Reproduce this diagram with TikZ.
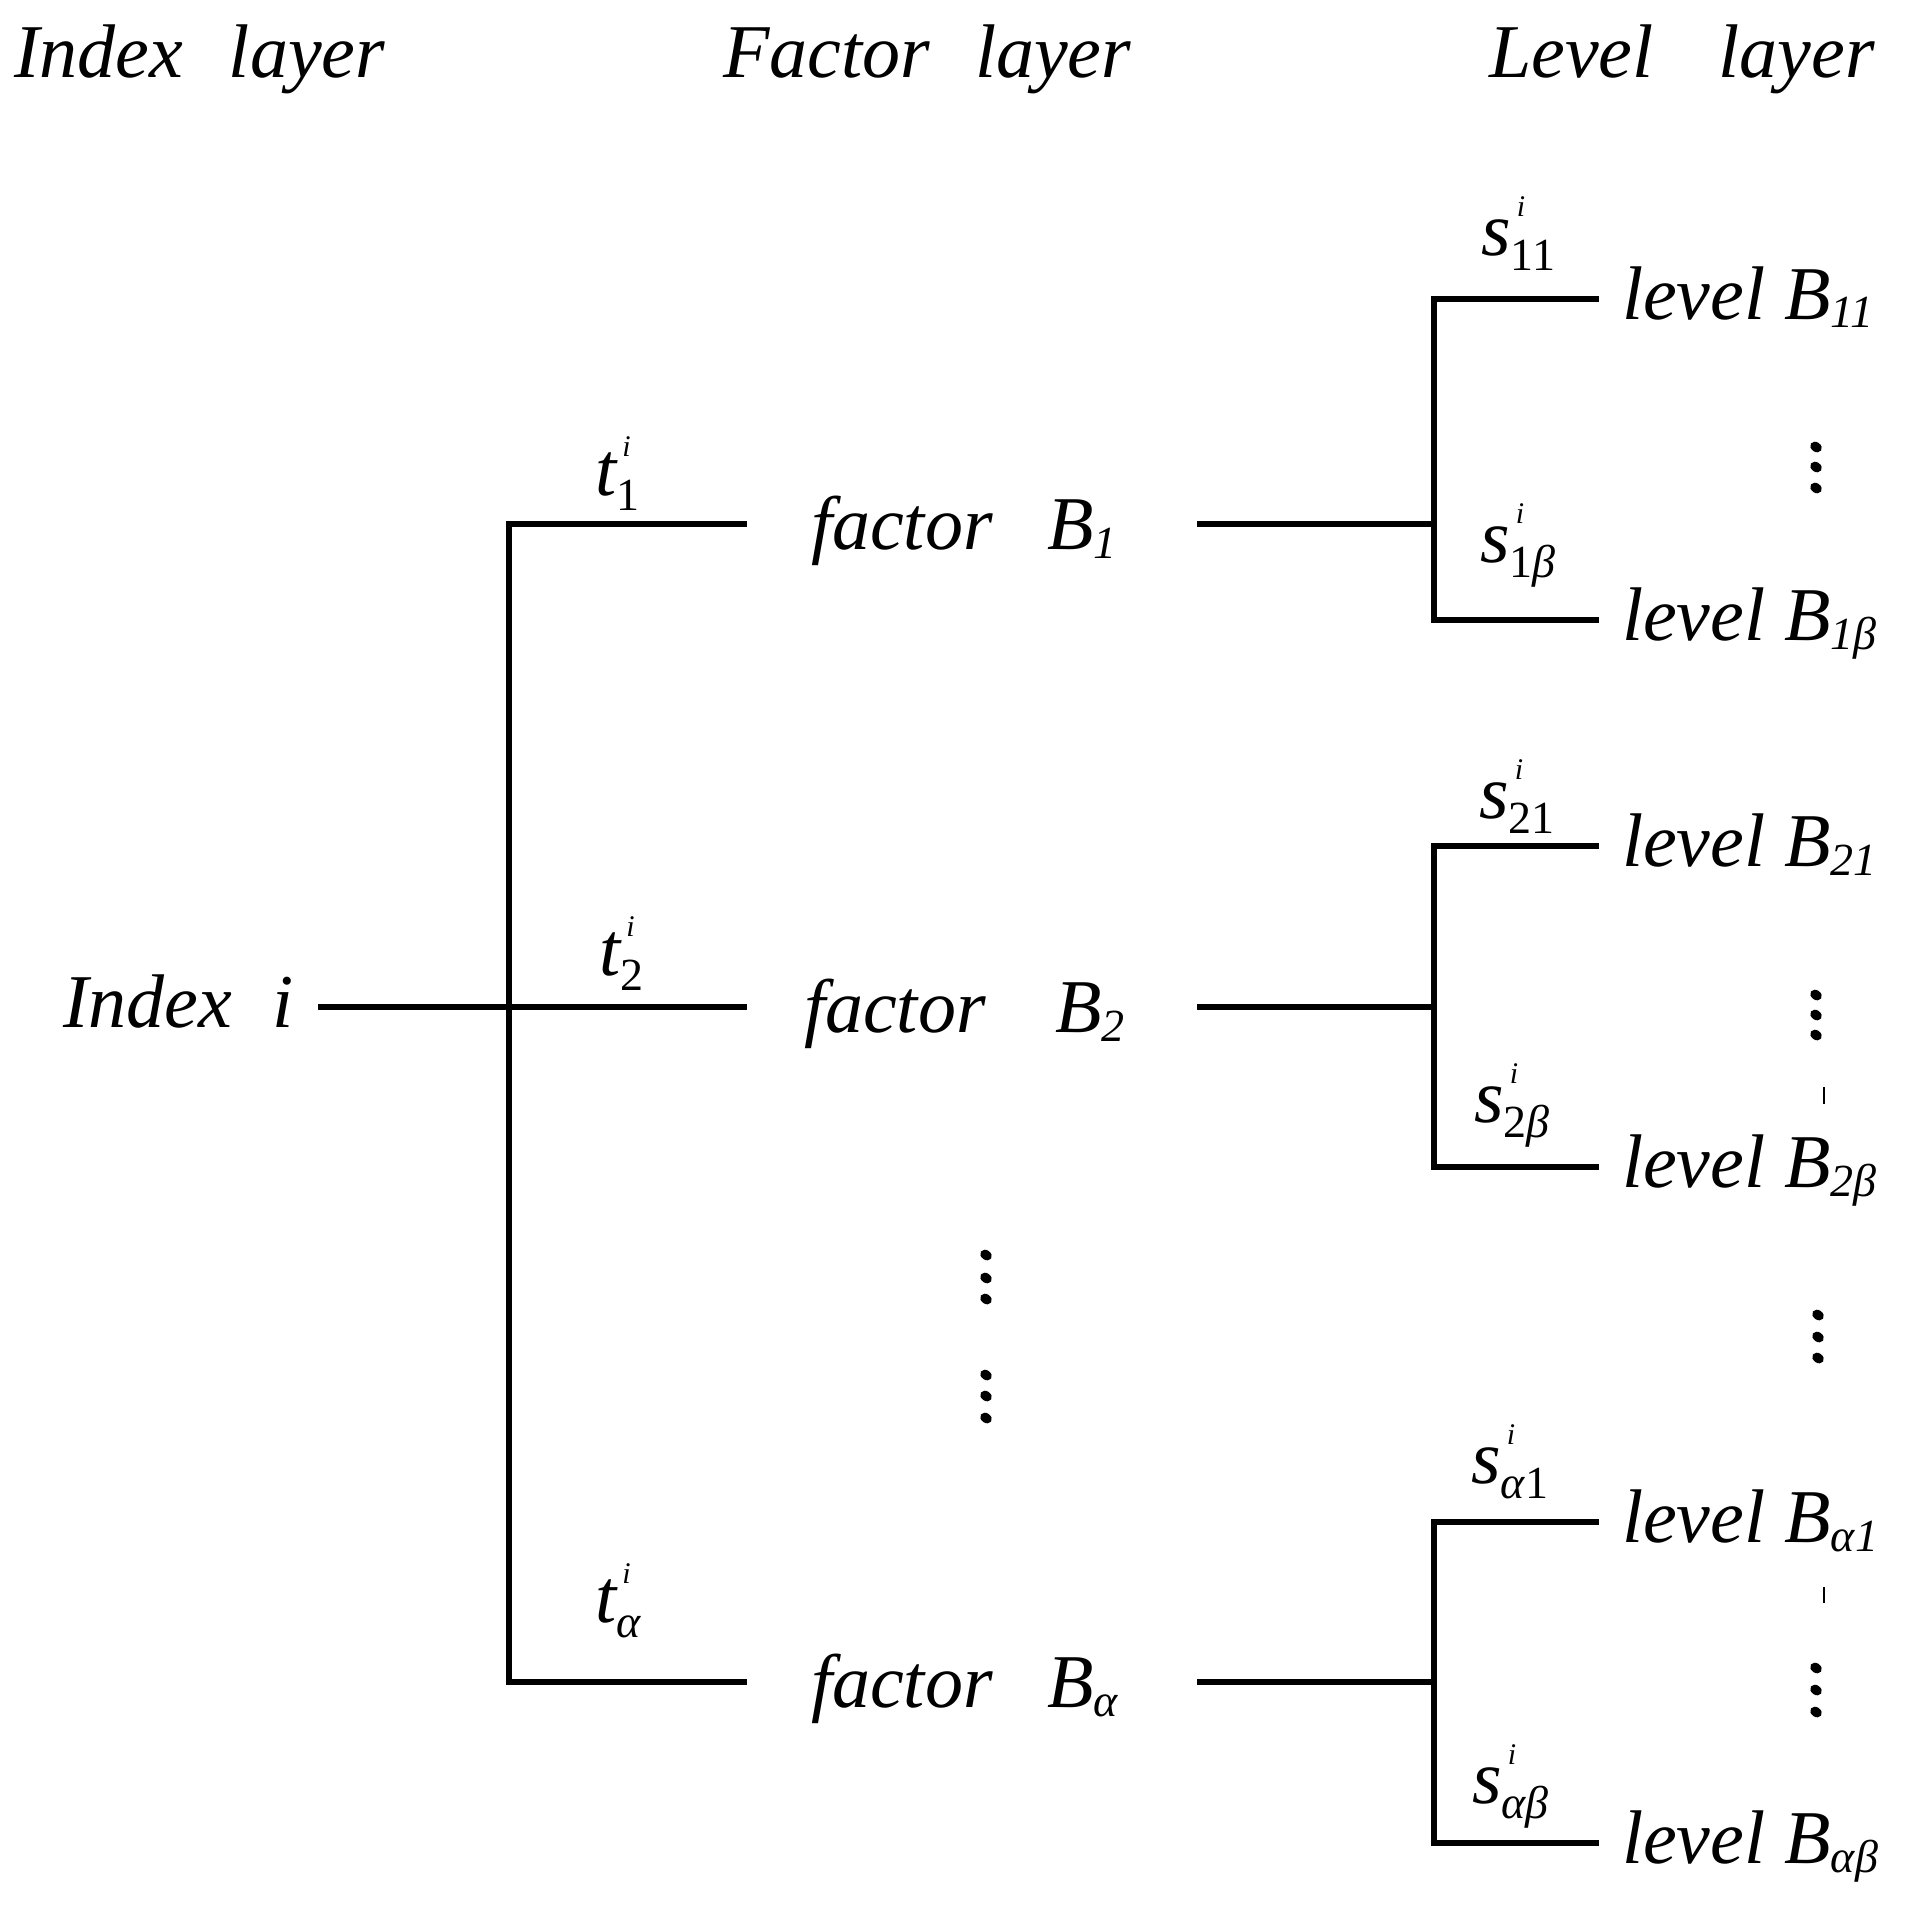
\documentclass[tikz,border=0pt]{standalone}
\usepackage{fontspec}
\setmainfont{Liberation Serif}

\newcommand{\wlab}[3]{\textit{#1}\rlap{\hspace{6pt}\raisebox{39pt}{\fontsize{30}{30}\selectfont\itshape #2}}\raisebox{-15pt}{\fontsize{46}{46}\selectfont\upshape #3}}
\newcommand{\lsub}[1]{\raisebox{-9pt}{\fontsize{46}{46}\selectfont\itshape #1}}

\begin{document}
\begin{tikzpicture}[x=1pt,y=-1pt,
	every node/.style={font=\fontsize{76}{76}\selectfont\itshape,inner sep=0pt},
	link/.style={line width=5.5pt},
	fac/.style={anchor=west,outer xsep=64pt,text width=322pt,align=left,text height=62pt,text depth=12pt},
	lvl/.style={anchor=west,outer xsep=23pt,text height=52pt,text depth=12pt},
	wt/.style={anchor=base west}]
	\useasboundingbox (0,0) rectangle (1921,1910);
	\node[wt] (hidx) at (14,78) {Index\hspace{46pt}layer};
	\node[wt] (hfac) at (723,78) {Factor\hspace{45pt}layer};
	\node[wt] (hlvl) at (1489,78) {Level\hspace{65pt}layer};
	\node[anchor=east,outer xsep=24pt,text height=52pt,text depth=12pt] (idx) at (318,1007) {Index\hspace{41pt}i};
	\node[fac] (f1) at (747,524) {\mbox{factor\hspace{55pt}B\lsub{1}}};
	\node[fac] (f2) at (747,1007) {\mbox{\hspace*{-7pt}factor\hspace{70pt}B\lsub{2}}};
	\node[fac] (fa) at (747,1682) {\mbox{factor\hspace{55pt}B\lsub{α}}};
	\node[lvl] (l11) at (1599,299) {level B\lsub{11}};
	\node[lvl] (l1b) at (1599,620) {level B\lsub{1β}};
	\node[lvl] (l21) at (1599,846) {level B\lsub{21}};
	\node[lvl] (l2b) at (1599,1167) {level B\lsub{2β}};
	\node[lvl] (la1) at (1599,1522) {level B\lsub{α1}};
	\node[lvl] (lab) at (1599,1843) {level B\lsub{αβ}};
	\node[wt] (t1) at (595,495) {\wlab{t}{i}{1}};
	\node[wt] (t2) at (599,975) {\wlab{t}{i}{2}};
	\node[wt] (ta) at (595,1622) {\wlab{t}{i}{\itshape α}};
	\node[wt] (s11) at (1481,255) {\wlab{s}{i}{11}};
	\node[wt] (s1b) at (1480,562) {\wlab{s}{i}{1\textit{β}}};
	\node[wt] (s21) at (1479,818) {\wlab{s}{i}{21}};
	\node[wt] (s2b) at (1474,1122) {\wlab{s}{i}{2\textit{β}}};
	\node[wt] (sa1) at (1471,1483) {\wlab{s}{i}{\textit{α}1}};
	\node[wt] (sab) at (1472,1803) {\wlab{s}{i}{\textit{αβ}}};
	\coordinate (tr) at (509,1007);
	\coordinate (ltr) at (1434,0);
	\draw[link] (idx.east) -- (f2.west);
	\draw[link] (f1.west) -| (tr |- fa.west) -- (fa.west);
	\draw[link] (f1.east) -- (ltr |- f1.east);
	\draw[link] (f2.east) -- (ltr |- f2.east);
	\draw[link] (fa.east) -- (ltr |- fa.east);
	\draw[link] (l11.west) -| (ltr |- l1b.west) -- (l1b.west);
	\draw[link] (l21.west) -| (ltr |- l2b.west) -- (l2b.west);
	\draw[link] (la1.west) -| (ltr |- lab.west) -- (lab.west);
	\foreach \x/\y in {986/1255,986/1278,986/1299,986/1375,986/1396,986/1418,
		1816/447,1816/467,1816/488,1816/995,1816/1015,1816/1035,
		1818/1315,1818/1337,1818/1358,1816/1668,1816/1690,1816/1712}
		\fill[rotate around={-35:(\x,\y)}] (\x,\y) ellipse (6.2 and 4.8);
	\draw[line width=2pt] (1824,1087) -- (1824,1104);
	\draw[line width=2pt] (1824,1587) -- (1824,1603);
\end{tikzpicture}
\end{document}
